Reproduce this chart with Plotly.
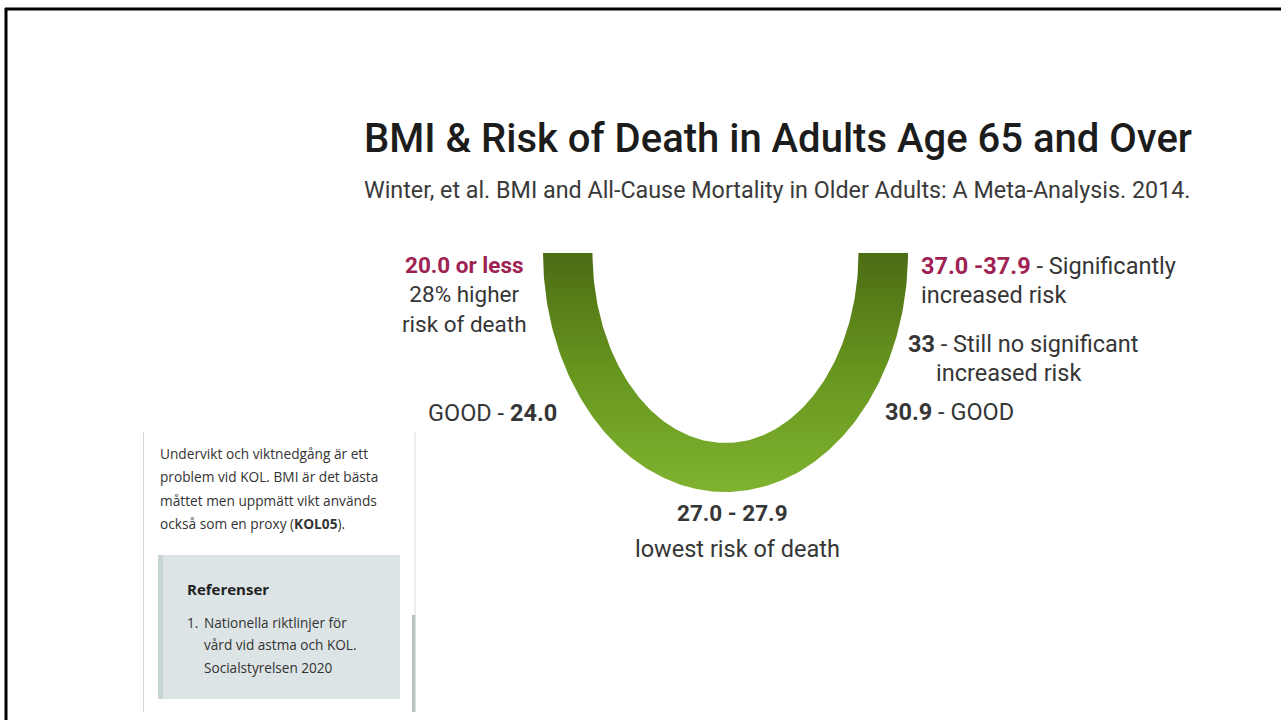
import numpy as np
import plotly.graph_objects as go

W, H = 1281, 720

# ---- content ----
title = "BMI & Risk of Death in Adults Age 65 and Over"
subtitle = "Winter, et al. BMI and All-Cause Mortality in Older Adults: A Meta-Analysis. 2014."
left_labels = ["<b>20.0 or less</b>", "28% higher", "risk of death"]
good_left = "GOOD - <b>24.0</b>"
bottom_labels = ["<b>27.0 - 27.9</b>", "lowest risk of death"]
right_hi = ("37.0 -37.9", " - Significantly", "increased risk")
right_mid = ("33", " - Still no significant", "increased risk")
good_right = "<b>30.9</b> - GOOD"
panel_lines = ["Undervikt och viktnedgång är ett",
               "problem vid KOL. BMI är det bästa",
               "måttet men uppmätt vikt används",
               "också som en proxy (<b>KOL05</b>)."]
ref_title = "Referenser"
ref_lines = ["Nationella riktlinjer för", "vård vid astma och KOL.", "Socialstyrelsen 2020"]

# U-shape (half elliptical ring) geometry, in page pixels
cx, cy = 725.5, 253
a_out, b_out = 182.5, 239
a_in, b_in = 133, 190

CRIMSON = "#9e2352"
TXT = "#363636"
LBL = 23.5

fig = go.Figure()

t = np.linspace(np.pi, 0, 200)
xo = cx + a_out * np.cos(t)
yo = cy + b_out * np.sin(t)
ti = t[::-1]
xi = cx + a_in * np.cos(ti)
yi = cy + b_in * np.sin(ti)
xs = np.concatenate([xo, xi, xo[:1]])
ys = np.concatenate([yo, yi, yo[:1]])
fig.add_trace(go.Scatter(
    x=xs, y=ys, mode="lines", fill="toself", line=dict(width=0, color="rgba(0,0,0,0)"),
    fillgradient=dict(type="vertical", start=cy, stop=cy + b_out,
                      colorscale=[[0, "#4c6c14"], [0.5, "#67961f"], [1, "#7fb32f"]]),
    hoverinfo="skip", showlegend=False))

ann = []
def A(text, x, y, size, xanchor="left", color=TXT, family="Roboto, Arial, sans-serif", weight=None):
    f = dict(size=size, color=color, family=family)
    if weight:
        f["weight"] = weight
    ann.append(dict(text=text, x=x, y=y, xref="x", yref="y", xanchor=xanchor, yanchor="middle",
                    showarrow=False, font=f, align=xanchor if xanchor != "center" else "center"))

A(title, 362, 138, 40, color="#1c1c1c", weight=500)
A(subtitle, 362, 190, 23.3, color="#3a3a3a")

left_block = (f"<span style='color:{CRIMSON}'>{left_labels[0]}</span><br>"
              f"{left_labels[1]}<br>{left_labels[2]}")
A(left_block, 464, 294, 22.5, "center")
A(good_left, 559, 413, LBL, "right")

A(bottom_labels[0], 732, 513, LBL - 1, "center")
A(bottom_labels[1], 737, 549, LBL, "center")

A(f"<span style='color:{CRIMSON}'><b>{right_hi[0]}</b></span>{right_hi[1]}", 919, 266, LBL)
A(right_hi[2], 919, 295, LBL)
A(f"<b>{right_mid[0]}</b>{right_mid[1]}", 906, 344, LBL)
A(right_mid[2], 934, 373, LBL)
A(good_right, 883, 412, LBL)

# panel text
PF = "Open Sans, sans-serif"
for i, ln in enumerate(panel_lines):
    A(ln, 158, 453 + 23.5 * i, 13.7, color="#333333", family=PF)
A(f"<b>{ref_title}</b>", 185, 589, 15, color="#222222", family=PF)
A("1.", 185, 622, 13.6, color="#333333", family=PF)
for i, ln in enumerate(ref_lines):
    A(ln, 202, 622 + 22.5 * i, 13.6, color="#333333", family=PF)

shapes = [
    # frame
    dict(type="line", x0=5, x1=W, y0=9, y1=9, line=dict(color="black", width=3)),
    dict(type="line", x0=6, x1=6, y0=8, y1=H, line=dict(color="black", width=3)),
    # panel lines
    dict(type="line", x0=143.5, x1=143.5, y0=432, y1=712, line=dict(color="#d6d6d6", width=1)),
    dict(type="line", x0=415, x1=415, y0=432, y1=616, line=dict(color="#dcdcdc", width=1)),
    dict(type="rect", x0=412, x1=415.5, y0=615, y1=712, fillcolor="#b9c1c1", line=dict(width=0)),
    # reference box
    dict(type="rect", x0=158, x1=400, y0=555, y1=699, fillcolor="#dce4e5", line=dict(width=0)),
    dict(type="rect", x0=158, x1=163, y0=555, y1=699, fillcolor="#c6d4d4", line=dict(width=0)),
]

fig.update_layout(
    width=W, height=H, margin=dict(l=0, r=0, t=0, b=0),
    paper_bgcolor="white", plot_bgcolor="white",
    xaxis=dict(range=[0, W], visible=False, fixedrange=True),
    yaxis=dict(range=[H, 0], visible=False, fixedrange=True),
    annotations=ann, shapes=shapes, showlegend=False,
)

fig.write_html("out.html", config={"displayModeBar": False})
